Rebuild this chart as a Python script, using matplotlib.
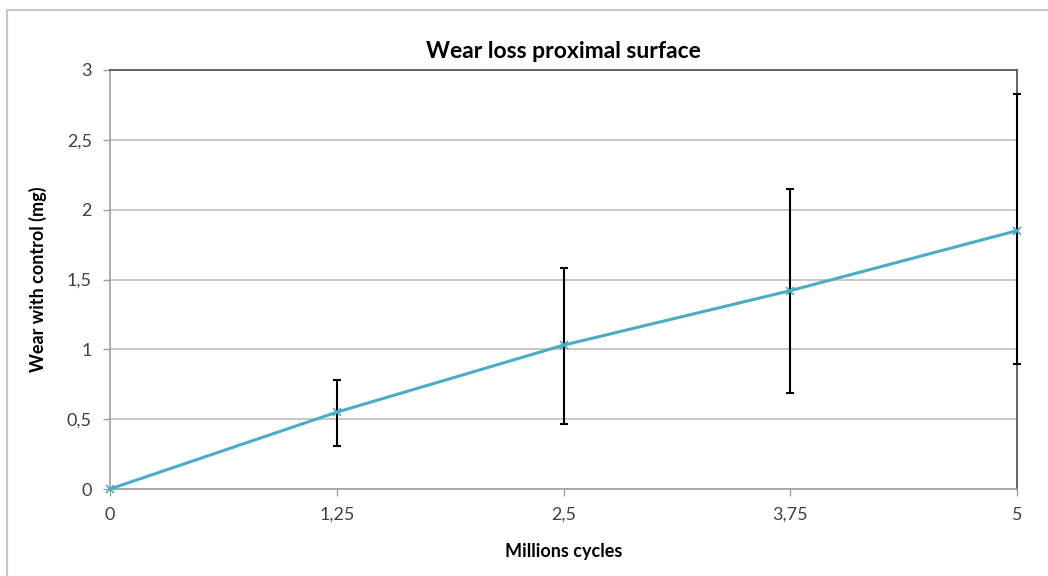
import matplotlib.pyplot as plt
from matplotlib.patches import Rectangle
from matplotlib.ticker import FuncFormatter

# --- datos ---
ciclos = [0, 1.25, 2.5, 3.75, 5]
desgaste = [0, 0.55, 1.03, 1.42, 1.85]
err_inf = [0, 0.245, 0.565, 0.73, 0.955]
err_sup = [0, 0.23, 0.55, 0.73, 0.98]
xticks = [0, 1.25, 2.5, 3.75, 5]
yticks = [0, 0.5, 1, 1.5, 2, 2.5, 3]

plt.rcParams['font.family'] = ['Lato', 'DejaVu Sans']

fig = plt.figure(figsize=(10.48, 5.76), dpi=100)
fig.patches.append(Rectangle((7 / 1048, -0.1), 1.2, 1 - 10 / 576 + 0.1,
                             transform=fig.transFigure, fill=False,
                             edgecolor='#c8c8c8', linewidth=1.5))
ax = fig.add_axes([110 / 1048, 1 - 489 / 576, 907 / 1048, 419 / 576])

barras = ax.errorbar(ciclos[1:], desgaste[1:], yerr=[err_inf[1:], err_sup[1:]], fmt='none',
                     ecolor='black', elinewidth=1.5, capsize=3, capthick=1.5, zorder=3)
for parte in barras.lines[1] + tuple(barras.lines[2]):
    parte.set_clip_on(False)
for parte in barras.lines[2]:
    parte.set_clip_on(False)
linea, = ax.plot(ciclos, desgaste, color='#4bacc6', linewidth=2.2, marker='x',
                 markersize=6, markeredgewidth=1.2, zorder=4)
linea.set_clip_on(False)

ax.set_xlim(0, 5)
ax.set_ylim(0, 3)
ax.set_xticks(xticks)
ax.set_yticks(yticks)
fmt = FuncFormatter(lambda v, p: ('%g' % v).replace('.', ','))
ax.xaxis.set_major_formatter(fmt)
ax.yaxis.set_major_formatter(fmt)
ax.grid(axis='y', color='#bfbfbf', linewidth=1.2)
ax.set_axisbelow(True)
ax.tick_params(axis='both', labelsize=13, colors='#404040', length=5,
               width=1, pad=8)
ax.tick_params(axis='both', color='#a0a0a0')

for lado in ['top', 'right']:
    ax.spines[lado].set_color('#595959')
    ax.spines[lado].set_linewidth(1.3)
for lado in ['left', 'bottom']:
    ax.spines[lado].set_color('#a0a0a0')
    ax.spines[lado].set_linewidth(1.2)

ax.set_title('Wear loss proximal surface', fontsize=16.5, fontweight='bold', pad=9)
ax.set_xlabel('Millions cycles', fontsize=13, fontweight='bold', labelpad=14)
ax.set_ylabel('Wear with control (mg)', fontsize=13, fontweight='bold', labelpad=14)

fig.savefig('out.png', dpi=100)
